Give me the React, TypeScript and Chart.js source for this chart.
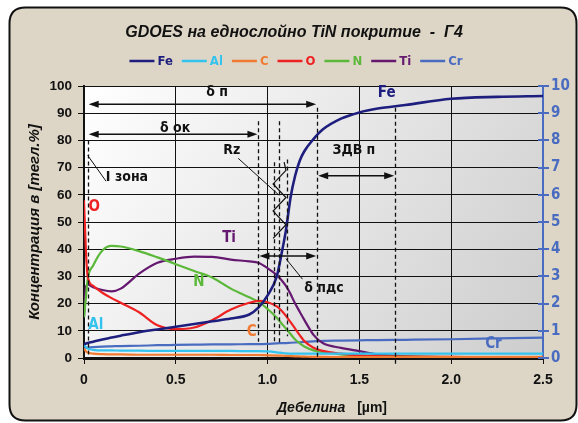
import React, { useEffect, useRef } from "react";
import { Chart, registerables } from "chart.js";
Chart.register(...registerables);

// ---------- data ----------
const depth = [0, 0.01, 0.02, 0.05, 0.1, 0.15, 0.2, 0.3, 0.4, 0.5, 0.6, 0.7, 0.8, 0.9, 0.95, 1.0, 1.05, 1.075, 1.1, 1.125, 1.15, 1.175, 1.2, 1.25, 1.3, 1.4, 1.5, 1.6, 1.75, 2.0, 2.25, 2.5];
const feVals = [5, 5.3, 5.5, 6, 6.8, 7.5, 8.2, 9.5, 10.5, 11.5, 12.5, 13.5, 14.5, 16, 18.5, 23, 30, 38, 47, 59, 67, 72.5, 76, 80.5, 84, 88, 90.3, 91.7, 93, 95.3, 96, 96.3];
const alVals = [5, 4, 3.5, 3, 2.8, 2.8, 2.7, 2.7, 2.6, 2.6, 2.6, 2.6, 2.6, 2.5, 2.5, 2.4, 2.1, 1.9, 1.7, 1.6, 1.6, 1.6, 1.6, 1.6, 1.6, 1.6, 1.6, 1.6, 1.6, 1.6, 1.6, 1.6];
const cVals = [3.5, 2.5, 2, 1.6, 1.4, 1.3, 1.3, 1.2, 1.2, 1.2, 1.2, 1.2, 1.1, 1.1, 1.1, 1.0, 0.9, 0.85, 0.8, 0.7, 0.6, 0.55, 0.5, 0.4, 0.4, 0.3, 0.3, 0.3, 0.3, 0.3, 0.3, 0.3];
const oVals = [58, 40, 30, 26.5, 24, 22, 20.3, 16.8, 12, 10.6, 11.2, 14, 17.8, 20.3, 21, 20.5, 19, 17.5, 15.5, 13.2, 10.8, 8.4, 6.2, 3.8, 2.6, 1.6, 1, 0.7, 0.5, 0.4, 0.3, 0.3];
const nVals = [15, 22, 29, 34, 39.5, 41.2, 41, 39.3, 37, 34.5, 32, 29.5, 25.5, 22.3, 20.7, 18, 14.8, 12.8, 10.8, 8.8, 6.8, 5.4, 4.2, 2.8, 2.2, 1.3, 1, 0.7, 0.5, 0.3, 0.2, 0.2];
const tiVals = [15, 26, 27, 26, 25, 24.5, 25.5, 31, 35, 36.5, 37.3, 37.2, 36.2, 35.5, 35, 33, 30.5, 28.7, 26.5, 23.5, 20, 17, 14, 8.5, 5.5, 3.7, 2.5, 1.3, 0.6, 0.3, 0.2, 0.2];
const crVals = [3.5, 3.7, 3.8, 4, 4.2, 4.3, 4.4, 4.5, 4.7, 4.8, 4.9, 5, 5, 5.1, 5.1, 5.2, 5.4, 5.45, 5.5, 5.6, 5.7, 5.8, 5.9, 6.1, 6.3, 6.4, 6.5, 6.6, 6.7, 6.9, 7.2, 7.5];

const seriesNames = ["Fe", "Al", "C", "O", "N", "Ti", "Cr"];
const seriesValues = [feVals, alVals, cVals, oVals, nVals, tiVals, crVals];
const seriesColors = ["#1e1e7e", "#33c3ee", "#f07a30", "#ee2222", "#5cb83a", "#65186f", "#4a6cc0"];

const titleText = "GDOES на еднослойно TiN покритие  -  Г4";
const yTitle = "Концентрация в [тегл.%]";
const xTitleItalic = "Дебелина";
const xTitleUnit = "[µm]";

// annotations in data coordinates
const dashedLines = [[0.02, 80, 0], [0.95, 87, 6], [1.035, 72, 5.5], [1.06, 87, 5.5], [1.105, 73, 8], [1.27, 92, 0], [1.695, 92, -2.5]];
const arrows = [[0.02, 1.27, 93.3], [0.02, 0.95, 82.3], [1.27, 1.695, 67], [0.95, 1.27, 37.5]];
const leaders = [[0.02, 74.5, 0.12, 65], [0.84, 73.4, 1.06, 60], [1.1, 36.5, 1.19, 29]];
const notes: [string, number, number][] = [["δ п", 0.725, 97.6], ["δ ок", 0.496, 84.5], ["Rz", 0.805, 76.5], ["I зона", 0.234, 66.5], ["ЗДВ п", 1.47, 76.3], ["δ пдс", 1.307, 25.5]];
const zigzag = [[1.09, 72], [1.1, 69], [1.03, 64], [1.1, 59], [1.03, 54], [1.1, 49], [1.03, 44]];
const seriesTags: [string, number, number][] = [["O", 0.056, 55.6], ["Ti", 0.79, 44], ["N", 0.626, 28], ["Al", 0.064, 12.1], ["C", 0.913, 9.4], ["Fe", 1.649, 97.5], ["Cr", 2.23, 5]];

const NARROW = '"Liberation Sans Narrow", "Arial Narrow", "DejaVu Sans Condensed", "Liberation Sans", sans-serif';
const SANS = '"Liberation Sans", Arial, sans-serif';

const decorPlugin = {
  id: "decor",
  beforeDraw(chart: any) {
    const { ctx, width, height, chartArea: a } = chart;
    ctx.save();
    ctx.fillStyle = "#ffffff";
    ctx.fillRect(0, 0, width, height);
    const x0 = 9.5, y0 = 7.5, x1 = 576.5, y1 = 420.5, r = 16;
    ctx.beginPath();
    ctx.moveTo(x0 + r, y0);
    ctx.lineTo(x1 - r, y0);
    ctx.quadraticCurveTo(x1, y0, x1, y0 + r);
    ctx.lineTo(x1, y1 - r);
    ctx.quadraticCurveTo(x1, y1, x1 - r, y1);
    ctx.lineTo(x0 + r, y1);
    ctx.quadraticCurveTo(x0, y1, x0, y1 - r);
    ctx.lineTo(x0, y0 + r);
    ctx.quadraticCurveTo(x0, y0, x0 + r, y0);
    ctx.closePath();
    ctx.fillStyle = "#ddd6c6";
    ctx.fill();
    ctx.lineWidth = 2;
    ctx.strokeStyle = "#111111";
    ctx.stroke();
    const g = ctx.createLinearGradient(a.left, a.top, a.right, a.bottom);
    g.addColorStop(0, "#ffffff");
    g.addColorStop(1, "#cdcdcd");
    ctx.fillStyle = g;
    ctx.fillRect(a.left, a.top, a.right - a.left, a.bottom - a.top);

    // title
    ctx.fillStyle = "#111111";
    ctx.font = "italic bold 16px " + SANS;
    ctx.textAlign = "center";
    ctx.textBaseline = "middle";
    ctx.fillText(titleText, 294, 33);

    // legend
    ctx.font = "bold 13px " + NARROW;
    const lineLen = 25, gap = 3, spacing = 9;
    const ds = chart.data.datasets;
    const widths = ds.map((d: any) => lineLen + gap + ctx.measureText(d.label).width);
    const total = widths.reduce((s: number, w: number) => s + w, 0) + spacing * (ds.length - 1);
    let x = 296 - total / 2;
    const ly = 61;
    ds.forEach((d: any, i: number) => {
      ctx.strokeStyle = d.borderColor;
      ctx.lineWidth = 2.5;
      ctx.beginPath();
      ctx.moveTo(x, ly);
      ctx.lineTo(x + lineLen, ly);
      ctx.stroke();
      ctx.fillStyle = d.borderColor;
      ctx.textAlign = "left";
      ctx.fillText(d.label, x + lineLen + gap, ly + 1);
      x += widths[i] + spacing;
    });

    // y title
    ctx.save();
    ctx.translate(35, (a.top + a.bottom) / 2);
    ctx.rotate(-Math.PI / 2);
    ctx.font = "italic bold 15px " + SANS;
    ctx.fillStyle = "#111111";
    ctx.textAlign = "center";
    ctx.fillText(yTitle, 0, 0);
    ctx.restore();

    // x title
    ctx.font = "italic bold 14px " + SANS;
    const w1 = ctx.measureText(xTitleItalic).width;
    ctx.font = "bold 14px " + SANS;
    const w2 = ctx.measureText(xTitleUnit).width;
    const sp = 12;
    const cx = 332;
    const tx = cx - (w1 + sp + w2) / 2;
    ctx.textAlign = "left";
    ctx.fillStyle = "#111111";
    ctx.font = "italic bold 14px " + SANS;
    ctx.fillText(xTitleItalic, tx, 408);
    ctx.font = "bold 14px " + SANS;
    ctx.fillText(xTitleUnit, tx + w1 + sp, 408);
    ctx.restore();
  },
  afterDatasetsDraw(chart: any) {
    const { ctx } = chart;
    const xs = chart.scales.x, ys = chart.scales.y;
    const px = (v: number) => xs.getPixelForValue(v);
    const py = (v: number) => ys.getPixelForValue(v);
    ctx.save();
    ctx.strokeStyle = "#111111";
    ctx.fillStyle = "#111111";
    // dashed verticals
    ctx.setLineDash([4, 3]);
    ctx.lineWidth = 1.3;
    dashedLines.forEach(([x, t, b]) => {
      ctx.beginPath();
      ctx.moveTo(Math.round(px(x)) + 0.5, py(t));
      ctx.lineTo(Math.round(px(x)) + 0.5, py(b));
      ctx.stroke();
    });
    ctx.setLineDash([]);
    // arrows
    ctx.lineWidth = 1.5;
    arrows.forEach(([xa, xb, y]) => {
      const a = px(xa), b = px(xb), yy = py(y);
      ctx.beginPath();
      ctx.moveTo(a + 4, yy);
      ctx.lineTo(b - 4, yy);
      ctx.stroke();
      const head = (tip: number, dir: number) => {
        ctx.beginPath();
        ctx.moveTo(tip, yy);
        ctx.lineTo(tip + dir * 10, yy - 3.5);
        ctx.lineTo(tip + dir * 10, yy + 3.5);
        ctx.closePath();
        ctx.fill();
      };
      head(a + 1, 1);
      head(b - 1, -1);
    });
    // leaders
    ctx.lineWidth = 1;
    leaders.forEach(([x1, y1, x2, y2]) => {
      ctx.beginPath();
      ctx.moveTo(px(x1), py(y1));
      ctx.lineTo(px(x2), py(y2));
      ctx.stroke();
    });
    // zigzag
    ctx.lineWidth = 1.2;
    ctx.beginPath();
    zigzag.forEach(([x, y], i) => {
      if (i === 0) ctx.moveTo(px(x), py(y));
      else ctx.lineTo(px(x), py(y));
    });
    ctx.stroke();
    // notes
    ctx.font = "bold 14px " + NARROW;
    ctx.textAlign = "center";
    ctx.textBaseline = "middle";
    notes.forEach(([t, x, y]) => ctx.fillText(t, px(x), py(y)));
    // series tags
    ctx.font = "bold 15px " + NARROW;
    seriesTags.forEach(([t, x, y]) => {
      const idx = seriesNames.indexOf(t);
      ctx.fillStyle = seriesColors[idx];
      ctx.fillText(t, px(x), py(y));
    });
    ctx.restore();
  },
  afterDraw(chart: any) {
    const { ctx } = chart;
    const y2 = chart.scales.y2;
    ctx.save();
    ctx.strokeStyle = "#4a6cc0";
    ctx.lineWidth = 2;
    y2.ticks.forEach((t: any) => {
      const yy = Math.round(y2.getPixelForValue(t.value));
      ctx.beginPath();
      ctx.moveTo(y2.left - 5, yy);
      ctx.lineTo(y2.left, yy);
      ctx.stroke();
    });
    ctx.restore();
  },
};

export default function App() {
  const ref = useRef<HTMLCanvasElement>(null);
  useEffect(() => {
    if (!ref.current) return;
    const datasets = seriesNames.map((name, i) => ({
      label: name,
      data: depth.map((d, j) => ({ x: d, y: seriesValues[i][j] })),
      borderColor: seriesColors[i],
      backgroundColor: seriesColors[i],
      borderWidth: i === 0 ? 2.6 : 2.2,
      pointRadius: 0,
      cubicInterpolationMode: "monotone" as const,
      yAxisID: "y",
    }));
    const chart = new Chart(ref.current, {
      type: "line",
      data: { datasets },
      options: {
        animation: false,
        responsive: false,
        devicePixelRatio: 1,
        layout: { padding: { top: 86, left: 0, right: 0, bottom: 0 } },
        plugins: { legend: { display: false }, title: { display: false }, tooltip: { enabled: false } },
        scales: {
          x: {
            type: "linear",
            min: 0,
            max: 2.5,
            afterFit: (s: any) => { s.height = 65; },
            ticks: { stepSize: 0.5, color: "#111111", font: { family: SANS, size: 14, weight: "bold" }, padding: 8, maxRotation: 0 },
            grid: { color: "#111111", lineWidth: 1, tickLength: 6 },
            border: { color: "#111111", width: 3 },
          },
          y: {
            position: "left",
            min: 0,
            max: 100,
            afterFit: (s: any) => { s.width = 84; },
            ticks: { stepSize: 10, color: "#111111", font: { family: SANS, size: 13.5, weight: "bold" }, padding: 6 },
            grid: { color: "#111111", lineWidth: 1, tickLength: 6 },
            border: { color: "#111111", width: 2 },
          },
          y2: {
            position: "right",
            min: 0,
            max: 10,
            afterFit: (s: any) => { s.width = 35; },
            ticks: { stepSize: 1, color: "#4a6cc0", font: { family: NARROW, size: 15, weight: "bold" }, padding: 2 },
            grid: { drawOnChartArea: false, color: "#4a6cc0", lineWidth: 2, tickLength: 6 },
            border: { color: "#4a6cc0", width: 2 },
          },
        },
      },
      plugins: [decorPlugin],
    });
    return () => chart.destroy();
  }, []);
  return (
    <div style={{ position: "absolute", left: 0, top: 0, width: 578, height: 423 }}>
      <canvas ref={ref} width={578} height={423} style={{ width: 578, height: 423, display: "block" }} />
    </div>
  );
}
